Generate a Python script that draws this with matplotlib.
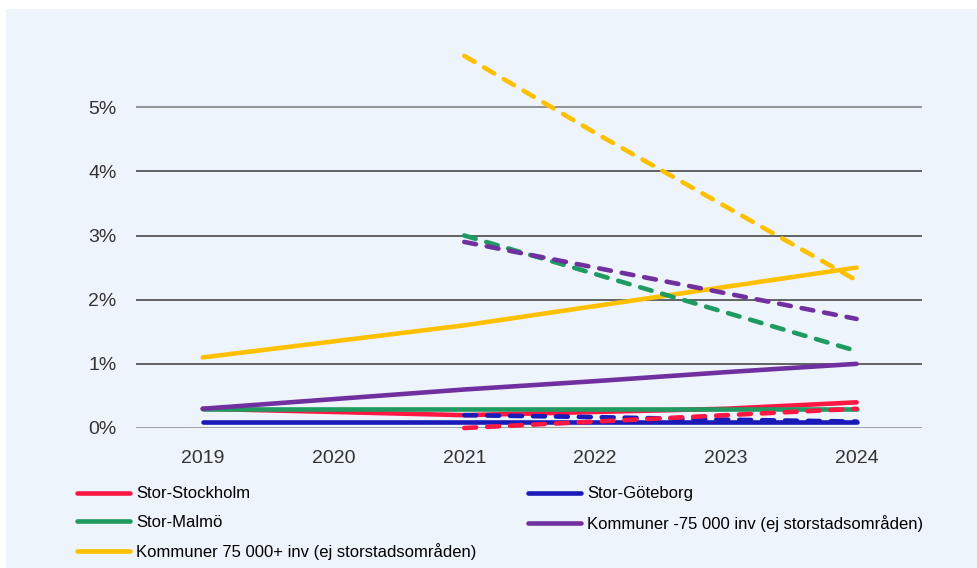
import matplotlib.pyplot as plt
from matplotlib.patches import Rectangle

# Values in percent per year
years = [2019, 2020, 2021, 2022, 2023, 2024]
stockholm = [0.3, 0.25, 0.2, 0.25, 0.3, 0.4]
goteborg = [0.1, 0.1, 0.1, 0.1, 0.1, 0.1]
malmo = [0.3, 0.3, 0.3, 0.3, 0.3, 0.3]
kommuner_small = [0.3, 0.45, 0.6, 0.73, 0.87, 1.0]
kommuner_large = [1.1, 1.35, 1.6, 1.9, 2.2, 2.5]

# Dashed series from 2021 onwards
years_dashed = [2021, 2022, 2023, 2024]
stockholm_d = [0.0, 0.1, 0.2, 0.3]
goteborg_d = [0.2, 0.17, 0.13, 0.1]
malmo_d = [3.0, 2.4, 1.8, 1.2]
kommuner_small_d = [2.9, 2.5, 2.1, 1.7]
kommuner_large_d = [5.8, 4.6, 3.45, 2.3]

yticks = [0, 1, 2, 3, 4, 5]
ytick_labels = ['0%', '1%', '2%', '3%', '4%', '5%']

red = '#FF1744'
blue = '#1A1AB8'
green = '#1F9A61'
purple = '#7030A0'
yellow = '#FFC000'
bg = '#EEF4FB'

fig = plt.figure(figsize=(9.78, 5.68), dpi=100)
fig.patch.set_facecolor('white')
panel = Rectangle((6 / 978, 0), 1, 559 / 568, transform=fig.transFigure,
                  facecolor=bg, edgecolor='none', zorder=-5)
fig.add_artist(panel)

ax = fig.add_axes([136 / 978, 140 / 568, 786 / 978, 385 / 568])
ax.set_facecolor('none')
ax.set_zorder(2)

lw = 3.3
solid = dict(lw=lw, solid_capstyle='round', clip_on=False, zorder=3)
dashed = dict(lw=lw, ls=(0, (2.6, 2.4)), dash_capstyle='round', clip_on=False, zorder=3)

h_sto, = ax.plot(years, stockholm, color=red, label='Stor-Stockholm', **solid)
h_mal, = ax.plot(years, malmo, color=green, label='Stor-Malmö', **solid)
h_got, = ax.plot(years, goteborg, color=blue, label='Stor-Göteborg', **solid)
h_ks, = ax.plot(years, kommuner_small, color=purple,
                label='Kommuner -75 000 inv (ej storstadsområden)', **solid)
h_kl, = ax.plot(years, kommuner_large, color=yellow,
                label='Kommuner 75 000+ inv (ej storstadsområden)', **solid)

ax.plot(years_dashed, kommuner_large_d, color=yellow, **dashed)
ax.plot(years_dashed, malmo_d, color=green, **dashed)
ax.plot(years_dashed, kommuner_small_d, color=purple, **dashed)
ax.plot(years_dashed, goteborg_d, color=blue, **dashed)
ax.plot(years_dashed, stockholm_d, color=red, **dashed)

ax.set_xlim(2018.49, 2024.5)
ax.set_ylim(0, 6)
ax.set_yticks(yticks)
ax.set_yticklabels(ytick_labels)
ax.set_xticks(years)
ax.grid(axis='y', color='#3a3a3a', lw=1.1, zorder=1)
ax.set_axisbelow(True)
for s in ax.spines.values():
    s.set_visible(False)
ax.tick_params(length=0, labelsize=14, labelcolor='#333333')
ax.tick_params(axis='y', pad=14)
ax.tick_params(axis='x', pad=16)
for t in ax.get_xticklabels() + ax.get_yticklabels():
    t.set_family('Liberation Sans')
ax.get_ygridlines()[0].set_color('#8a8a8a')
ax.get_ygridlines()[-1].set_color('#777777')

handles = [h_sto, h_mal, h_kl, h_got, h_ks]
fig.legend(handles=handles, labels=[h.get_label() for h in handles], ncol=2,
           mode='expand', loc='upper left',
           bbox_to_anchor=(77 / 978, 81 / 568, 846 / 978, 0.001),
           frameon=False, borderpad=0, borderaxespad=0, handlelength=3.2,
           handletextpad=0.35, labelspacing=0.8,
           prop={'family': 'Liberation Sans', 'size': 12})

fig.savefig('out.png', dpi=100, facecolor=fig.get_facecolor())
